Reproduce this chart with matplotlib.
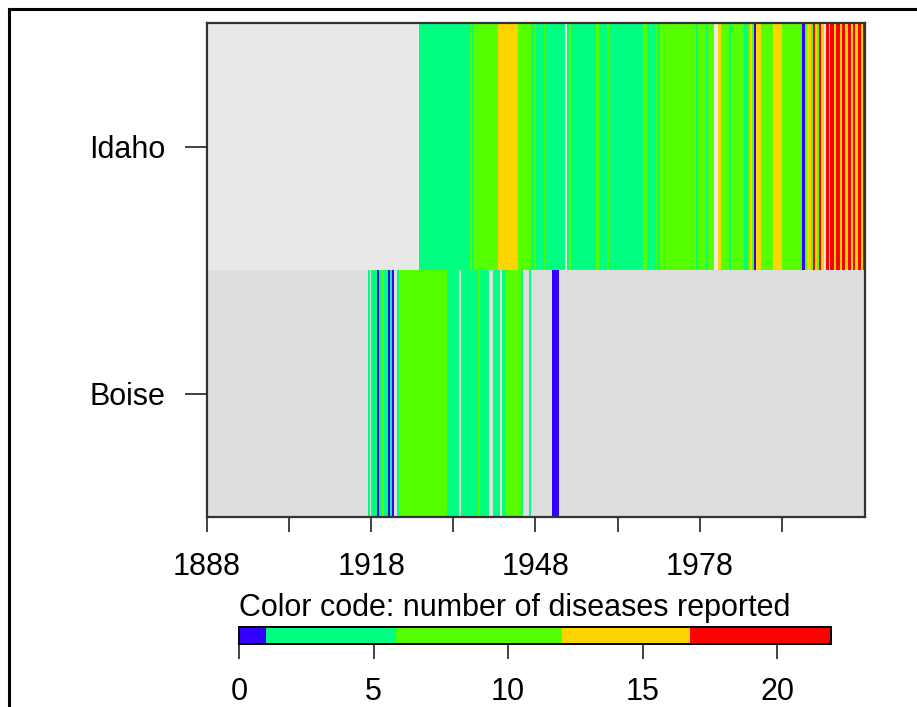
import matplotlib
matplotlib.use('Agg')
import matplotlib.pyplot as plt
import numpy as np
from matplotlib.colors import ListedColormap, BoundaryNorm
from matplotlib.lines import Line2D

plt.rcParams['font.family'] = ['Liberation Sans', 'DejaVu Sans']

# rows of the chart
rows = ['Boise', 'Idaho']
year_start = 1888
year_end = 2008.2

# Idaho: time where each stretch starts + number of diseases reported (nan = no data)
idaho_t = [1888, 1926.65, 1936.10, 1936.47, 1936.74, 1941.10, 1944.83, 1947.21, 1947.81, 1948.18,
           1949.52, 1949.83, 1953.48, 1953.79, 1954.09, 1954.53, 1959.15, 1959.52, 1961.11, 1961.48,
           1967.70, 1968.30, 1969.03, 1969.34, 1969.95, 1970.26, 1970.73, 1977.26, 1977.68, 1979.09,
           1979.51, 1980.61, 1981.34, 1981.84, 1983.36, 1983.79, 1986.10, 1986.83, 1987.20, 1987.64,
           1987.93, 1988.37, 1989.15, 1991.48, 1993.12, 1996.78, 1997.20, 1997.69, 1998.30, 1998.61,
           1999.03, 1999.40, 1999.82, 2000.13, 2000.62, 2001.04, 2001.57, 2001.83, 2002.55, 2002.87,
           2003.58, 2003.91, 2004.62, 2005.01, 2005.58, 2005.92, 2006.44, 2006.84, 2007.41, 2007.75]
idaho_n = [np.nan, 3, 8, 3, 8, 14, 8, 3, 8, 3,
           8, 3, np.nan, 3, 8, 3, 8, 3, 8, 3,
           8, 3, 8, 3, 8, 3, 8, 3, 8, 3,
           8, np.nan, 14, 8, 3, 8, 3, 8, 14, 8,
           0, 14, 8, 14, 8, 0, 8, 14, 8, 19,
           14, 8, 19, 14, np.nan, 19, 14, 19, 14, 19,
           14, 19, 14, 19, 14, 19, 14, 19, 14, 19]

# Boise
boise_t = [1888, 1917.36, 1917.69, 1917.94, 1918.97, 1919.41, 1920.01, 1920.29, 1920.98, 1921.35,
           1921.71, 1922.08, 1922.70, 1922.99, 1931.81, 1933.97, 1934.41, 1937.44, 1937.94, 1939.45,
           1940.26, 1941.59, 1941.96, 1942.60, 1945.38, 1945.75, 1946.77, 1947.21, 1951.05, 1952.26]
boise_n = [np.nan, 3, np.nan, 3, 0, 3, 8, 3, 0, 3,
           0, np.nan, 3, 8, 3, np.nan, 3, 8, 3, np.nan,
           3, np.nan, 3, 8, 3, np.nan, 3, np.nan, 0, np.nan]

# colour code
bounds = [0, 1, 5.85, 12, 16.75, 22]
colors = ['#3300FF', '#00FF80', '#55FF00', '#FFD500', '#FF0000']
cbar_ticks = [0, 5, 10, 15, 20]
x_ticks = list(range(1888, 2000, 15))
x_labels = ['1888', '', '1918', '', '1948', '', '1978', '']

cmap = ListedColormap(colors)
cmap.set_bad((0, 0, 0, 0))  # no data -> show grey background
norm = BoundaryNorm(bounds, cmap.N)

W, H = 917, 707
FS = 22
fig = plt.figure(figsize=(W / 100, H / 100), dpi=100)

# main panel
ax = fig.add_axes([207 / W, 1 - 517 / H, (865 - 207) / W, (517 - 23) / H])
ax.axhspan(1, 2, color='#E8E8E8', lw=0)  # grey for missing years
ax.axhspan(0, 1, color='#DEDEDE', lw=0)
for i, (t, n) in enumerate([(boise_t, boise_n), (idaho_t, idaho_n)]):
  X = np.append(t, year_end)
  C = np.ma.masked_invalid(np.array([n], dtype=float))
  ax.pcolormesh(X, [i, i + 1], C, cmap=cmap, norm=norm)

ax.set_xlim(year_start, year_end)
ax.set_ylim(0, 2)
ax.set_yticks([0.5, 1.5])
ax.set_yticklabels(rows)
ax.set_xticks(x_ticks)
ax.set_xticklabels(x_labels)
ax.tick_params(axis='y', length=16, width=1.3, color='#333333', pad=14, labelsize=FS)
ax.tick_params(axis='x', length=11, width=1.3, color='#333333', pad=14, labelsize=FS)
for s in ax.spines.values():
  s.set_linewidth(1.6)
  s.set_color('#333333')

# colour key
cax = fig.add_axes([239 / W, 1 - 644 / H, (831 - 239) / W, (644 - 627) / H])
cax.pcolormesh(bounds, [0, 1], [[0.5, 3, 8, 14, 19]], cmap=cmap, norm=norm)
cax.set_xlim(0, 22)
cax.set_ylim(0, 1)
cax.set_yticks([])
cax.set_xticks(cbar_ticks)
cax.tick_params(axis='x', length=11, width=1.3, color='#333333', pad=13, labelsize=FS)
for s in cax.spines.values():
  s.set_linewidth(1.4)
  s.set_color('black')
fig.text(239 / W, 1 - 608 / H, 'Color code: number of diseases reported', ha='left', va='center', fontsize=FS)

# outer frame (left and top only)
fig.add_artist(Line2D([9 / W, 9 / W], [0, 1 - 9 / H], transform=fig.transFigure, color='black', lw=2.2))
fig.add_artist(Line2D([9 / W, 1], [1 - 9 / H, 1 - 9 / H], transform=fig.transFigure, color='black', lw=2.2))

fig.savefig('out.png', dpi=100)
